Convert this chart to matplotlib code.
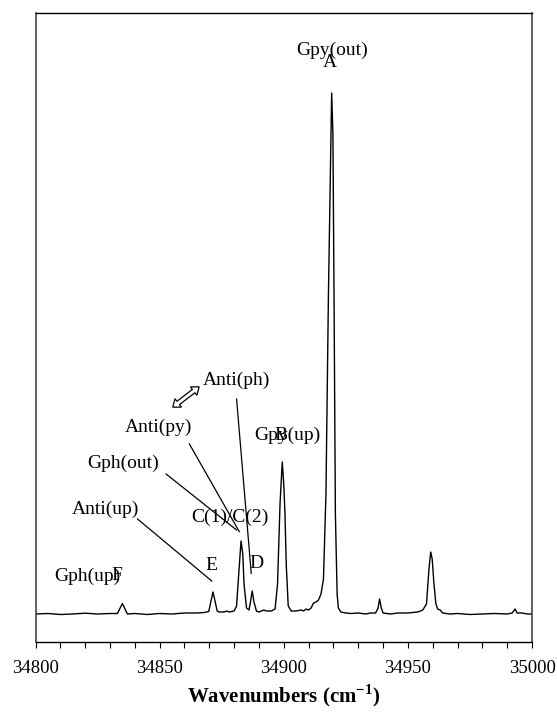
import matplotlib
matplotlib.use("Agg")
import matplotlib.pyplot as plt
from matplotlib.patches import Polygon
from matplotlib.transforms import Affine2D, ScaledTranslation
import numpy as np

plt.rcParams["font.family"] = ["Liberation Serif", "DejaVu Serif"]
plt.rcParams["mathtext.fontset"] = "custom"
plt.rcParams["mathtext.rm"] = "Liberation Serif"
plt.rcParams["mathtext.bf"] = "Liberation Serif:bold"

# spectrum (wavenumber in cm-1, intensity in arb. units)
wavenumber = [
    34800, 34805, 34810, 34815, 34820, 34825, 34830, 34833, 34835, 34837,
    34840, 34845, 34850, 34855, 34860, 34865, 34868, 34869.8, 34870.6, 34871.5,
    34872.4, 34873.2, 34874, 34876, 34877, 34878, 34880, 34881, 34882, 34882.8,
    34883.5, 34884, 34885, 34886, 34886.6, 34887.3, 34888, 34889, 34890, 34892,
    34893, 34895, 34896.5, 34897.5, 34898.5, 34899.4, 34900, 34900.5, 34901, 34901.8,
    34903, 34905, 34907, 34908, 34909, 34910, 34911, 34912, 34913, 34914,
    34915, 34916, 34917, 34918, 34919.3, 34919.8, 34920.3, 34920.8, 34921.5, 34922,
    34923, 34925, 34927, 34930, 34933, 34935, 34937, 34938, 34938.6, 34939.3,
    34940, 34943, 34946, 34950, 34954, 34956, 34957.5, 34958.5, 34959.2, 34959.8,
    34960.5, 34961.3, 34962, 34963, 34964, 34967, 34970, 34975, 34980, 34985,
    34990, 34992, 34993.2, 34994, 34996, 34998, 35000,
]
intensity = [
    0, 0.5, -0.5, 0, 0.8, 0, 0.5, 0.5, 10.5, 0,
    0.5, -0.5, 0.5, 0, 1, 1, 1.5, 2.5, 12, 22,
    12, 3, 2, 2, 3, 2, 3, 8, 45, 73,
    60, 30, 6, 4, 12, 23, 12, 3, 2, 4,
    3, 3, 5, 30, 110, 152, 130, 100, 50, 8,
    3, 3, 4, 3, 5, 4, 6, 11, 12, 14,
    20, 35, 120, 320, 521, 480, 300, 100, 20, 6,
    2, 1, 0.5, 1, 0, 1, 1, 6, 15, 6,
    1, 0, 1, 1, 2, 4, 10, 45, 62, 55,
    30, 10, 5, 4, 1, 0, 0.5, -0.5, 0, 0.5,
    0, 1, 5, 1, 1, 0, 0,
]

x_ticks = [34800, 34850, 34900, 34950, 35000]

fig = plt.figure(figsize=(5.57, 7.15), dpi=100)
ax = fig.add_axes([35.5 / 557, 73 / 715, 496.5 / 557, 629 / 715])

ax.plot(wavenumber, intensity, color="black", lw=1.0)
ax.set_xlim(34800, 35000)
ax.set_ylim(-28, 601)

ax.set_xticks(x_ticks)
ax.set_xticks(np.arange(34800, 35001, 10), minor=True)
ax.set_xticklabels([str(t) for t in x_ticks])
ax.tick_params(axis="x", which="both", direction="out", length=4, width=0.8, labelsize=13.5, pad=9)
ax.set_yticks([])
for side in ["left", "right"]:
    ax.spines[side].set_color("#444444")
    ax.spines[side].set_linewidth(1.2)
for side in ["top", "bottom"]:
    ax.spines[side].set_linewidth(1.0)

ax.set_xlabel("Wavenumbers (cm$^{\\mathbf{-1}}$)", fontsize=15, fontweight="bold", labelpad=4)

# peak labels, some deliberately overlapping as in the original
labels = [
    ("Gpy(out)", 34919.4, 564), ("A", 34918.6, 551),
    ("Gpy(up)", 34901.5, 179), ("B", 34898.8, 179),
    ("Anti(ph)", 34880.8, 234), ("Anti(py)", 34849.5, 187),
    ("Gph(out)", 34835.2, 151), ("Anti(up)", 34828.0, 105),
    ("C(1)/C(2)", 34878.3, 97), ("E", 34870.7, 49), ("D", 34889.1, 51),
    ("Gph(up)", 34820.7, 38), ("F", 34832.8, 38),
]
for txt, lx, ly in labels:
    ax.text(lx, ly, txt, fontsize=14, ha="center", va="center")

leaders = [
    ((34841.1, 95), (34871.0, 33)),
    ((34852.6, 140), (34881.0, 84)),
    ((34862.0, 170), (34882.1, 82.3)),
    ((34881.0, 215), (34886.9, 40.7)),
]
for (x0, y0), (x1, y1) in leaders:
    ax.plot([x0, x1], [y0, y1], color="black", lw=0.9)

# hollow double-headed arrow between Anti(py) and Anti(ph)
L, h, hw, sw = 12.0, 5.0, 3.8, 1.5
pts = np.array([
    (-L, 0), (-L + h, hw), (-L + h, sw), (L - h, sw), (L - h, hw),
    (L, 0), (L - h, -hw), (L - h, -sw), (-L + h, -sw), (-L + h, -hw),
])
tr = (Affine2D().rotate_deg(37.6).scale(1 / 72.0) + fig.dpi_scale_trans
      + ScaledTranslation(34860.6, 217, ax.transData))
ax.add_patch(Polygon(pts, closed=True, facecolor="white", edgecolor="black",
                     lw=0.9, transform=tr, clip_on=False))

fig.savefig("out.png", dpi=100)
